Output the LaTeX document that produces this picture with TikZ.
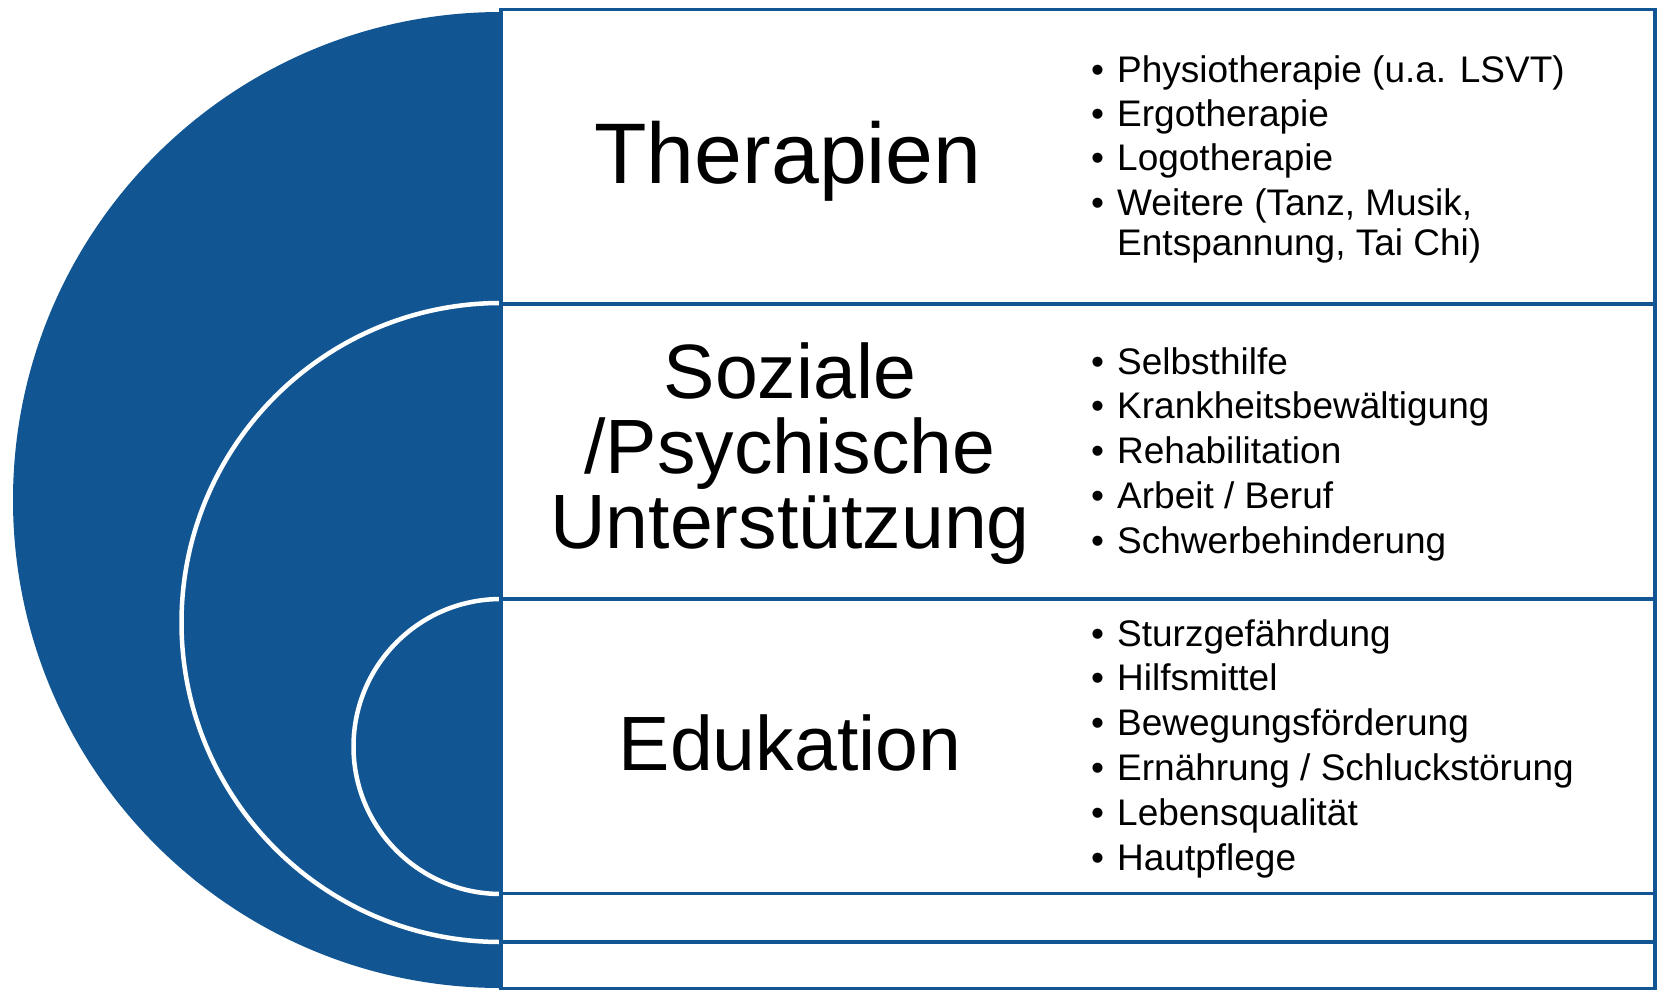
\documentclass[tikz,border=0pt]{standalone}
\usepackage{fontspec}
\setmainfont{Liberation Sans}
\definecolor{navy}{RGB}{17,85,147}
\newcommand\bul[1]{\makebox[26pt][l]{\textbullet}#1}
\begin{document}
\begin{tikzpicture}[x=1pt,y=-1pt,
  title/.style={font=\fontsize{77}{75}\selectfont, anchor=base, inner sep=0},
  item/.style={font=\fontsize{37}{40}\selectfont, anchor=base west, inner sep=0},
  panel/.style={draw=navy, line width=3.5pt},
  ring/.style={fill=navy, draw=white, line width=4.5pt}]
\useasboundingbox (0,0) rectangle (1659,991);

% nested half discs on the left
\fill[navy] (501,988) arc[start angle=90, end angle=270, radius=488] -- cycle;
\filldraw[ring] (501,942) arc[start angle=90, end angle=270, radius=319.5];
\filldraw[ring] (501,894) arc[start angle=90, end angle=270, radius=147.5];

% stacked panels
\draw[panel] (501,9.5) rectangle (1655,304);
\draw[panel] (501,304) rectangle (1655,599);
\draw[panel] (501,599) rectangle (1655,893.5);
\draw[panel] (501,893.5) rectangle (1655,942);
\draw[panel] (501,942) rectangle (1655,988.5);

% panel titles
\node[title, font=\fontsize{86}{80}\selectfont] (ther) at (788,183) {Therapien};
\node[title] (soz1) at (790,398) {Soziale};
\node[title] (soz2) at (790,473) {/Psychische};
\node[title] (soz3) at (790,548) {Unterstützung};
\node[title] (edu) at (790,770) {Edukation};

% Therapien
\node[item] (t1) at (1091,82) {\bul{Physiotherapie (u.a. LSVT)}};
\node[item] (t2) at (1091,126.4) {\bul{Ergotherapie}};
\node[item] (t3) at (1091,170.8) {\bul{Logotherapie}};
\node[item] (t4) at (1091,215.2) {\bul{Weitere (Tanz, Musik,}};
\node[item] (t5) at (1117,255) {Entspannung, Tai Chi)};

% Soziale / Psychische Unterstuetzung
\node[item] (s1) at (1091,374) {\bul{Selbsthilfe}};
\node[item] (s2) at (1091,418.8) {\bul{Krankheitsbewältigung}};
\node[item] (s3) at (1091,463.6) {\bul{Rehabilitation}};
\node[item] (s4) at (1091,508.4) {\bul{Arbeit / Beruf}};
\node[item] (s5) at (1091,553.2) {\bul{Schwerbehinderung}};

% Edukation
\node[item] (e1) at (1091,646) {\bul{Sturzgefährdung}};
\node[item] (e2) at (1091,690.8) {\bul{Hilfsmittel}};
\node[item] (e3) at (1091,735.6) {\bul{Bewegungsförderung}};
\node[item] (e4) at (1091,780.4) {\bul{Ernährung / Schluckstörung}};
\node[item] (e5) at (1091,825.2) {\bul{Lebensqualität}};
\node[item] (e6) at (1091,870) {\bul{Hautpflege}};
\end{tikzpicture}
\end{document}
